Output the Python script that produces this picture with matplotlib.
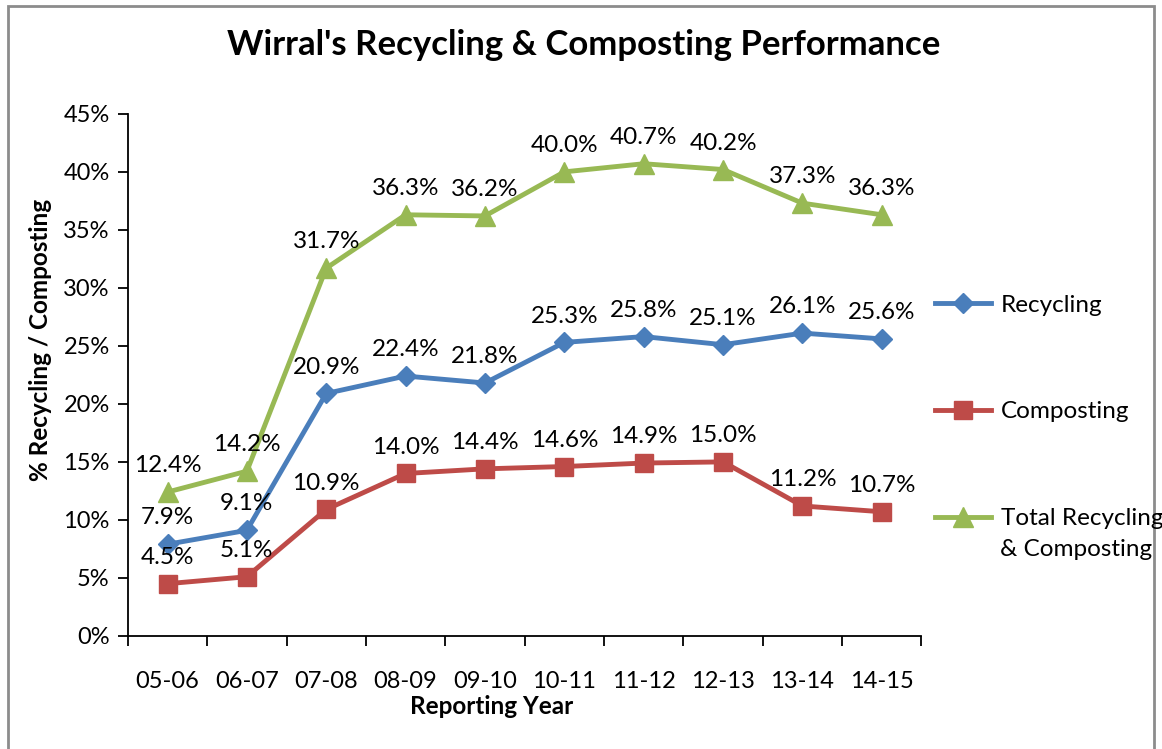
import matplotlib
matplotlib.use("Agg")
import matplotlib.pyplot as plt
from matplotlib.patches import Rectangle

plt.rcParams['font.family'] = ['Lato', 'DejaVu Sans']

years = ['05-06', '06-07', '07-08', '08-09', '09-10',
         '10-11', '11-12', '12-13', '13-14', '14-15']
recycling = [7.9, 9.1, 20.9, 22.4, 21.8, 25.3, 25.8, 25.1, 26.1, 25.6]
composting = [4.5, 5.1, 10.9, 14.0, 14.4, 14.6, 14.9, 15.0, 11.2, 10.7]
total = [12.4, 14.2, 31.7, 36.3, 36.2, 40.0, 40.7, 40.2, 37.3, 36.3]
y_ticks = [0, 5, 10, 15, 20, 25, 30, 35, 40, 45]

series = [
    ('Recycling', recycling, '#4A7EBB', 'D', 10),
    ('Composting', composting, '#BE4B48', 's', 13),
    ('Total Recycling', total, '#98B954', '^', 14),
]

fig = plt.figure(figsize=(11.62, 7.49), dpi=100)
ax = fig.add_axes([0.110, 0.151, 0.683, 0.697])

x = list(range(len(years)))
for name, vals, color, marker, ms in series:
    ax.plot(x, vals, color=color, linewidth=3.5, marker=marker,
            markersize=ms, label=name)
    for xi, v in zip(x, vals):
        ax.annotate(f'{v:.1f}%', (xi, v), xytext=(0, 19),
                    textcoords='offset points', ha='center', va='center',
                    fontsize=17.5)

ax.set_xlim(-0.5, len(years) - 0.5)
ax.set_ylim(0, 45)
ax.set_yticks(y_ticks)
ax.set_yticklabels([f'{t}%' for t in y_ticks])
ax.set_xticks(x)
ax.set_xticklabels(years)
ax.set_xticks([i - 0.5 for i in range(len(years) + 1)], minor=True)
ax.tick_params(axis='x', which='major', length=0, pad=25, labelsize=17)
ax.tick_params(axis='x', which='minor', length=7, width=1.3, direction='out')
ax.tick_params(axis='y', length=7, width=1.3, direction='out', labelsize=17, pad=6)

for side in ['top', 'right']:
    ax.spines[side].set_visible(False)
for side in ['left', 'bottom']:
    ax.spines[side].set_linewidth(1.3)

ax.set_xlabel('Reporting Year', fontsize=17.5, fontweight='bold')
ax.xaxis.set_label_coords(0.459, -0.113)
ax.set_ylabel('% Recycling / Composting', fontsize=17.5, fontweight='bold')
ax.yaxis.set_label_coords(-0.096, 0.567)
fig.suptitle("Wirral's Recycling & Composting Performance",
             fontsize=25, fontweight='bold', x=0.502, y=0.94, va='center')

fig.legend(loc='upper left', bbox_to_anchor=(0.786, 0.636), frameon=False,
           fontsize=17.5, labelspacing=3.53, handlelength=2.3,
           handletextpad=0.4)
fig.text(1000 / 1162, 1 - 550 / 749, '& Composting', fontsize=17.5,
         ha='left', va='center')

fig.patches.append(Rectangle((8 / 1162, -0.05), 1146 / 1162, 1.05 - 6 / 749,
                             transform=fig.transFigure, fill=False,
                             edgecolor='#8C8C8C', linewidth=2))

fig.savefig('out.png', dpi=100)
